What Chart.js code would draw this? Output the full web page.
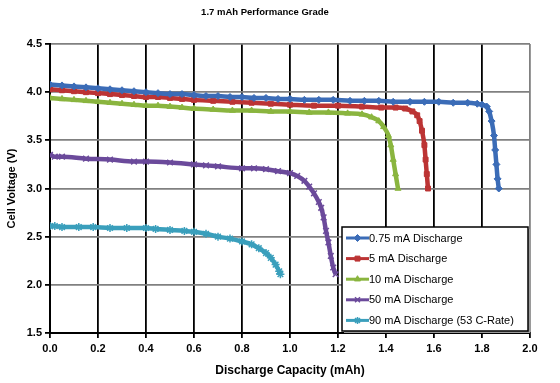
<!DOCTYPE html>
<html>
<head>
<meta charset="utf-8">
<script src="https://cdn.jsdelivr.net/npm/chart.js@4.4.1/dist/chart.umd.min.js"></script>
<style>
  body { margin: 0; background: #fff; }
</style>
</head>
<body>
<canvas id="myChart" width="560" height="383"></canvas>
<script>
// series labels and colours
const seriesNames = ["0.75 mA Discharge", "5 mA Discharge", "10 mA Discharge", "50 mA Discharge", "90 mA Discharge (53 C-Rate)"];
const seriesColors = ["#3b6cb7", "#bc3434", "#8ab53f", "#6b4a9b", "#3a9fbc"];
const seriesMarkers = ["rectRot", "rect", "triangle", "crossRot", "star"];

// discharge capacity (mAh) / cell voltage (V)
const q075 = [0, 0.05, 0.1, 0.15, 0.2, 0.25, 0.3, 0.35, 0.4, 0.45, 0.5, 0.55, 0.6, 0.65, 0.7, 0.75, 0.8, 0.85, 0.9, 0.95, 1.0, 1.06, 1.12, 1.18, 1.25, 1.31, 1.37, 1.43, 1.5, 1.56, 1.62, 1.68, 1.74, 1.78, 1.8, 1.82, 1.83, 1.84, 1.85, 1.855, 1.86, 1.865, 1.87];
const v075 = [4.08, 4.07, 4.06, 4.05, 4.04, 4.03, 4.02, 4.01, 4.0, 3.99, 3.98, 3.98, 3.97, 3.96, 3.96, 3.95, 3.95, 3.94, 3.94, 3.93, 3.93, 3.92, 3.92, 3.92, 3.91, 3.91, 3.91, 3.9, 3.9, 3.9, 3.9, 3.89, 3.89, 3.88, 3.87, 3.85, 3.8, 3.7, 3.55, 3.4, 3.25, 3.1, 3.0];

const q5 = [0, 0.05, 0.1, 0.15, 0.2, 0.25, 0.3, 0.35, 0.4, 0.45, 0.5, 0.55, 0.6, 0.68, 0.76, 0.84, 0.92, 1.0, 1.1, 1.2, 1.3, 1.38, 1.44, 1.48, 1.51, 1.53, 1.54, 1.55, 1.56, 1.565, 1.57, 1.575];
const v5 = [4.03, 4.02, 4.01, 4.0, 3.99, 3.98, 3.97, 3.96, 3.95, 3.95, 3.94, 3.93, 3.92, 3.91, 3.9, 3.89, 3.88, 3.87, 3.86, 3.86, 3.85, 3.84, 3.84, 3.83, 3.8, 3.76, 3.7, 3.6, 3.45, 3.3, 3.15, 3.0];

const q10 = [0, 0.05, 0.1, 0.15, 0.2, 0.25, 0.3, 0.35, 0.4, 0.45, 0.5, 0.55, 0.6, 0.68, 0.76, 0.84, 0.92, 1.0, 1.08, 1.16, 1.24, 1.3, 1.34, 1.37, 1.39, 1.41, 1.42, 1.43, 1.44, 1.45];
const v10 = [3.94, 3.93, 3.92, 3.91, 3.9, 3.89, 3.88, 3.87, 3.86, 3.86, 3.85, 3.84, 3.83, 3.82, 3.81, 3.81, 3.8, 3.8, 3.79, 3.79, 3.78, 3.77, 3.74, 3.7, 3.64, 3.55, 3.45, 3.3, 3.15, 3.0];

const q50 = [0, 0.02, 0.05, 0.15, 0.25, 0.35, 0.4, 0.5, 0.6, 0.65, 0.7, 0.8, 0.85, 0.9, 0.95, 1.0, 1.03, 1.06, 1.08, 1.1, 1.12, 1.13, 1.14, 1.15, 1.16, 1.17, 1.18, 1.19];
const v50 = [3.35, 3.33, 3.33, 3.31, 3.3, 3.28, 3.28, 3.27, 3.25, 3.24, 3.23, 3.21, 3.21, 3.2, 3.18, 3.16, 3.13, 3.08, 3.02, 2.95, 2.86, 2.8, 2.7, 2.56, 2.44, 2.3, 2.18, 2.11];

const q90 = [0, 0.02, 0.05, 0.12, 0.18, 0.25, 0.32, 0.4, 0.44, 0.5, 0.56, 0.6, 0.65, 0.7, 0.75, 0.8, 0.84, 0.87, 0.9, 0.92, 0.94, 0.955, 0.96];
const v90 = [2.61, 2.61, 2.6, 2.6, 2.6, 2.59, 2.59, 2.59, 2.58, 2.57, 2.56, 2.55, 2.53, 2.5, 2.48, 2.45, 2.42, 2.38, 2.33, 2.28, 2.21, 2.14, 2.11];

const capacities = [q075, q5, q10, q50, q90];
const voltages = [v075, v5, v10, v50, v90];

const FONT = "'Liberation Sans', Arial, sans-serif";

const datasets = seriesNames.map(function(name, i) {
  return {
    label: name,
    data: capacities[i].map(function(q, j) { return {x: q, y: voltages[i][j]}; }),
    borderColor: seriesColors[i],
    backgroundColor: seriesColors[i],
    borderWidth: 4.5,
    pointStyle: seriesMarkers[i],
    pointRadius: (i >= 3) ? 4 : 3.5,
    pointBorderWidth: (i >= 3) ? 1.5 : 1,
    pointBorderColor: seriesColors[i],
    pointBackgroundColor: seriesColors[i],
    cubicInterpolationMode: 'monotone'
  };
});

// legend drawn inside the plot, bottom right
const insideLegend = {
  id: 'insideLegend',
  afterDraw: function(chart) {
    const ctx = chart.ctx;
    const area = chart.chartArea;
    const w = 186, h = 104;
    const x0 = area.right - w - 2, y0 = area.bottom - h - 2;
    ctx.save();
    ctx.fillStyle = '#9a9a9a';
    ctx.fillRect(x0 + 2, y0 + 2, w, h);
    ctx.fillStyle = '#fff';
    ctx.fillRect(x0, y0, w, h);
    ctx.strokeStyle = '#000';
    ctx.lineWidth = 1.5;
    ctx.strokeRect(x0, y0, w, h);
    ctx.font = '11px ' + FONT;
    ctx.textBaseline = 'middle';
    chart.data.datasets.forEach(function(ds, i) {
      const y = y0 + 11 + i * 20.6;
      ctx.strokeStyle = ds.borderColor;
      ctx.lineWidth = 3;
      ctx.beginPath();
      ctx.moveTo(x0 + 4, y);
      ctx.lineTo(x0 + 27, y);
      ctx.stroke();
      ctx.fillStyle = ds.borderColor;
      ctx.lineWidth = ds.pointBorderWidth;
      Chart.helpers.drawPoint(ctx, {pointStyle: ds.pointStyle, radius: 3.5, borderWidth: ds.pointBorderWidth, rotation: 0}, x0 + 15.5, y);
      ctx.fillStyle = '#000';
      ctx.fillText(ds.label, x0 + 27, y + 0.5);
    });
    ctx.restore();
  }
};

new Chart("myChart", {
  type: "line",
  data: { datasets: datasets },
  plugins: [insideLegend],
  options: {
    responsive: false,
    animation: false,
    layout: { padding: { right: 30 } },
    plugins: {
      legend: { display: false },
      tooltip: { enabled: false },
      title: {
        display: true,
        text: "1.7 mAh Performance Grade",
        color: '#000',
        font: { family: FONT, size: 9.5, weight: 'bold' },
        padding: { top: 7, bottom: 25.6 }
      }
    },
    scales: {
      x: {
        type: 'linear',
        min: 0, max: 2,
        afterFit: function(s) { s.height = 50; },
        ticks: {
          stepSize: 0.2,
          padding: 4,
          color: '#000',
          font: { family: FONT, size: 11, weight: 'bold' },
          callback: function(v) { return v.toFixed(1); }
        },
        grid: {
          color: function(c) { return (c.tick && c.tick.value >= 2) ? '#808080' : '#000'; },
          lineWidth: 1.8,
          tickLength: 5,
          tickColor: '#000'
        },
        border: { color: '#000', width: 2 },
        title: {
          display: true,
          text: 'Discharge Capacity (mAh)',
          color: '#000',
          font: { family: FONT, size: 12, weight: 'bold' },
          padding: { top: 4, bottom: 5 }
        }
      },
      y: {
        min: 1.5, max: 4.5,
        afterFit: function(s) { s.width = 50; },
        ticks: {
          stepSize: 0.5,
          padding: 3,
          color: '#000',
          font: { family: FONT, size: 11, weight: 'bold' },
          callback: function(v) { return v.toFixed(1); }
        },
        grid: {
          color: '#808080',
          lineWidth: 1.8,
          tickLength: 5,
          tickColor: '#000'
        },
        border: { color: '#000', width: 2 },
        title: {
          display: true,
          text: 'Cell Voltage (V)',
          color: '#000',
          font: { family: FONT, size: 11, weight: 'bold' },
          padding: { top: 5, bottom: 4 }
        }
      }
    }
  }
});
</script>
</body>
</html>
